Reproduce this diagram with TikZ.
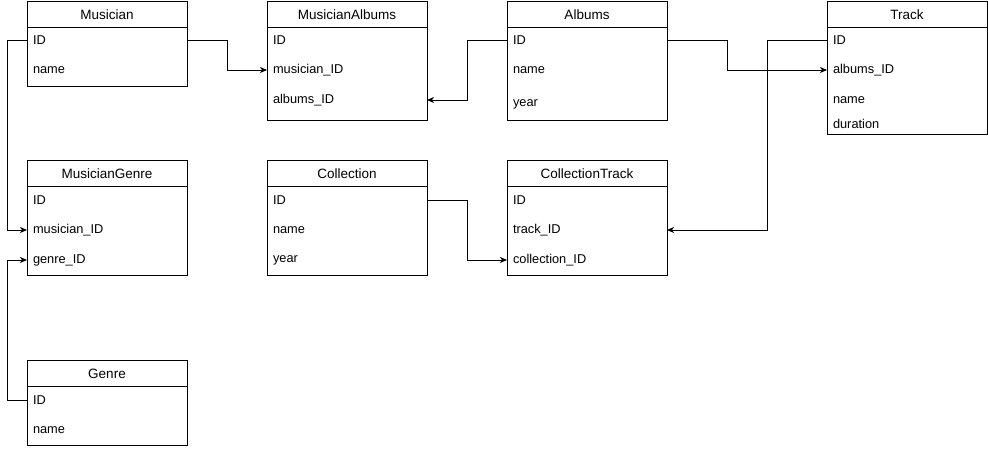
\documentclass[tikz,border=0pt]{standalone}
\usepackage{fontspec}
\setmainfont{Liberation Sans}
\usetikzlibrary{arrows.meta}
\tikzset{
  tblbox/.style={draw, line width=1pt, minimum width=160pt, anchor=north west, inner sep=0pt, outer sep=0pt},
  tbltitle/.style={font=\fontsize{13.5pt}{15pt}\selectfont, inner sep=0pt},
  tblrow/.style={anchor=west, inner xsep=6pt, inner ysep=0pt, outer sep=0pt, text width=148pt, minimum height=16pt, align=left, font=\fontsize{12.8pt}{14pt}\selectfont},
  conn/.style={line width=1pt, -{Stealth[length=7pt,width=6pt,inset=2pt]}}
}
\newcommand{\mytable}[5]{% name, x, y, height, title
  \node[tblbox, minimum height=#4pt] (#1) at (#2,#3) {};
  \draw[line width=1pt] (#2,#3+26) -- (#2+160,#3+26);
  \node[tbltitle] (#1-t) at (#2+80,#3+13.5) {#5};
}
\begin{document}
\begin{tikzpicture}[x=1pt,y=-1pt]
\useasboundingbox (0,0) rectangle (988,450);
% Musician
\mytable{mus}{27}{1}{85}{Musician}
\node[tblrow] (mus-r1) at (27,40) {ID};
\node[tblrow] (mus-r2) at (27,70) {name};
% MusicianAlbums
\mytable{ma}{267}{1}{119}{MusicianAlbums}
\node[tblrow] (ma-r1) at (267,40) {ID};
\node[tblrow] (ma-r2) at (267,70) {musician\_ID};
\node[tblrow] (ma-r3) at (267,100) {albums\_ID};
% Albums
\mytable{alb}{507}{1}{119}{Albums}
\node[tblrow] (alb-r1) at (507,40) {ID};
\node[tblrow] (alb-r2) at (507,70) {name};
\node[tblrow] (alb-r3) at (507,104) {year};
% Track
\mytable{trk}{827}{1}{133}{Track}
\node[tblrow] (trk-r1) at (827,40) {ID};
\node[tblrow] (trk-r2) at (827,70) {albums\_ID};
\node[tblrow] (trk-r3) at (827,100) {name};
\node[tblrow] (trk-r4) at (827,124) {duration};
% MusicianGenre
\mytable{mg}{27}{160}{115}{MusicianGenre}
\node[tblrow] (mg-r1) at (27,200) {ID};
\node[tblrow] (mg-r2) at (27,230) {musician\_ID};
\node[tblrow] (mg-r3) at (27,260) {genre\_ID};
% Collection
\mytable{col}{267}{160}{115}{Collection}
\node[tblrow] (col-r1) at (267,200) {ID};
\node[tblrow] (col-r2) at (267,230) {name};
\node[tblrow] (col-r3) at (267,260) {year};
% CollectionTrack
\mytable{ct}{507}{160}{115}{CollectionTrack}
\node[tblrow] (ct-r1) at (507,200) {ID};
\node[tblrow] (ct-r2) at (507,230) {track\_ID};
\node[tblrow] (ct-r3) at (507,260) {collection\_ID};
% Genre
\mytable{gen}{27}{360}{85}{Genre}
\node[tblrow] (gen-r1) at (27,400) {ID};
\node[tblrow] (gen-r2) at (27,430) {name};
% connectors
\draw[conn] (mus-r1.west) -- ++(-20,0) |- (mg-r2.west);
\draw[conn] (mus-r1.east) -- ++(40,0) |- (ma-r2.west);
\draw[conn] (alb-r1.west) -- ++(-40,0) |- (ma-r3.east);
\draw[conn] (alb-r1.east) -- ++(60,0) |- (trk-r2.west);
\draw[conn] (trk-r1.west) -- ++(-60,0) |- (ct-r2.east);
\draw[conn] (col-r1.east) -- ++(40,0) |- (ct-r3.west);
\draw[conn] (gen-r1.west) -- ++(-20,0) |- (mg-r3.west);
\end{tikzpicture}
\end{document}
